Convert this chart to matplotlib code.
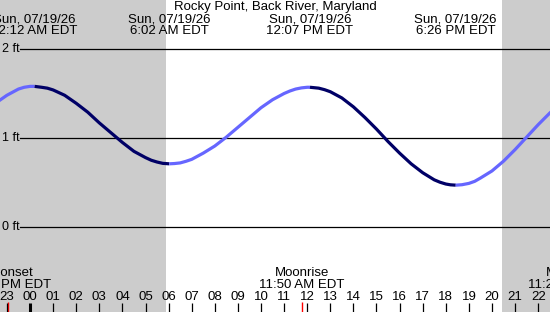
import numpy as np
import matplotlib
matplotlib.use("Agg")
import matplotlib.pyplot as plt

# tide heights (ft), hours relative to midnight 07/19/26
hours = [-1.5, -1.0, -0.5, -0.25, 0.0, 0.2, 0.5, 0.75, 1.0, 1.5, 2.0, 2.5, 3.0,
         3.5, 4.0, 4.5, 5.0, 5.25, 5.5, 5.75, 6.03, 6.25, 6.5, 6.75, 7.0, 7.5,
         8.0, 8.5, 9.0, 9.5, 10.0, 10.5, 11.0, 11.25, 11.5, 11.75, 12.0, 12.12,
         12.5, 12.75, 13.0, 13.5, 14.0, 14.5, 15.0, 15.5, 16.0, 16.5, 17.0,
         17.5, 17.75, 18.0, 18.2, 18.43, 18.7, 19.0, 19.25, 19.5, 20.0, 20.5,
         21.0, 21.5, 22.0, 22.5, 23.0]
heights = [1.39, 1.48, 1.55, 1.57, 1.58, 1.58, 1.57, 1.56, 1.54, 1.48, 1.39,
           1.29, 1.17, 1.06, 0.95, 0.85, 0.78, 0.75, 0.73, 0.715, 0.71, 0.713,
           0.72, 0.738, 0.76, 0.83, 0.91, 1.01, 1.12, 1.23, 1.34, 1.43, 1.50,
           1.528, 1.55, 1.563, 1.57, 1.57, 1.56, 1.543, 1.52, 1.45, 1.35, 1.23,
           1.10, 0.96, 0.83, 0.71, 0.61, 0.53, 0.503, 0.483, 0.474, 0.47,
           0.475, 0.49, 0.513, 0.55, 0.63, 0.74, 0.87, 1.01, 1.15, 1.28, 1.40]

# high / low tide events
event_hours = [0.2, 6.03, 12.12, 18.43]
event_kind = ["H", "L", "H", "L"]
event_labels = ["Sun, 07/19/26\n12:12 AM EDT", "Sun, 07/19/26\n6:02 AM EDT",
                "Sun, 07/19/26\n12:07 PM EDT", "Sun, 07/19/26\n6:26 PM EDT"]

sunrise = 5.89
sunset = 20.43

moon_hours = [-0.95, 11.78, 23.42]
moon_labels = ["Moonset\n11:03 PM EDT", "Moonrise\n11:50 AM EDT", "Moonset\n11:25 PM EDT"]

hour_ticks = list(range(-1, 23))
hour_labels = ["%02d" % (h % 24) for h in hour_ticks]
ft_levels = [0, 1, 2]

title = "Rocky Point, Back River, Maryland"

# pixel layout: hour 0 at x=30 px, 23.1 px per hour; 0 ft at y=227 px, 89 px per ft
W, H = 550, 312
x0, xs = 30.0, 23.1
y0, ys = 227.0, 89.0


def py(p):
    return (y0 - p) / ys


plt.rcParams["font.family"] = ["Liberation Sans", "DejaVu Sans"]
fs = 9.5
grey = "#cccccc"

fig = plt.figure(figsize=(W / 100, H / 100), dpi=100)
ax = fig.add_axes([0, 0, 1, 1])
ax.set_xlim(-x0 / xs, (W - x0) / xs)
ax.set_ylim(py(H), py(0))
ax.axis("off")

ax.axvspan(-5, sunrise, color=grey, lw=0, zorder=0)
ax.axvspan(sunset, 30, color=grey, lw=0, zorder=0)

for lev in ft_levels:
    ax.axhline(lev, xmin=20 / W, xmax=1, color="black", lw=0.9, zorder=1)
    ax.text((19.5 - x0) / xs, lev, "%d ft" % lev, ha="right", va="center",
            fontsize=9, zorder=3)

# tide curve: rising light blue, falling dark navy
t = np.array(hours)
h = np.array(heights)
bounds = [-99] + event_hours + [99]
for i in range(len(bounds) - 1):
    a, b = bounds[i], bounds[i + 1]
    m = (t >= a - 1e-9) & (t <= b + 1e-9)
    if i < len(event_kind):
        rising = event_kind[i] == "H"
    else:
        rising = event_kind[-1] == "L"
    col = "#6666ff" if rising else "#000066"
    ax.plot(t[m], h[m], color=col, lw=2.3, solid_capstyle="butt",
            solid_joinstyle="round", zorder=2)

ax.text((W / 2 - x0) / xs, py(7.5), title, ha="center", va="center", fontsize=fs)
for eh, lab in zip(event_hours, event_labels):
    ax.text(eh, py(25.5), lab, ha="center", va="center", fontsize=fs,
            linespacing=0.95)

for mh, lab in zip(moon_hours, moon_labels):
    ax.text(mh, py(279), lab, ha="center", va="center", fontsize=fs,
            linespacing=0.95)
    ax.vlines(mh, py(312), py(302), color="red", lw=1.0, zorder=3)

for hr, lab in zip(hour_ticks, hour_labels):
    ax.text(hr, py(297), lab, ha="center", va="center", fontsize=fs)
    lw = 2.2 if hr == 0 else 0.9
    ax.vlines(hr, py(312), py(303), color="black", lw=lw, zorder=3)

fig.savefig("out.png", dpi=100)
